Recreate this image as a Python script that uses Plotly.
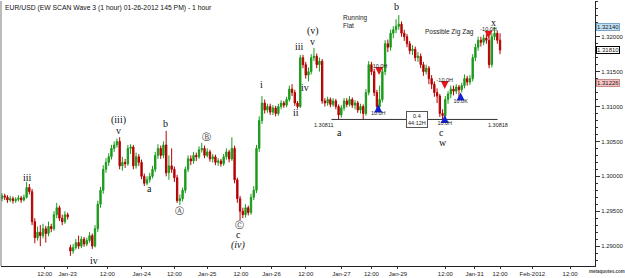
import plotly.graph_objects as go

title_text = "EUR/USD (EW SCAN Wave 3 (1 hour) 01-26-2012 145 PM) - 1 hour"

opens = [1.2968,1.2972,1.2970,1.2966,1.2968,1.2965,1.2967,1.2969,1.2966,1.2970,
         1.2984,1.2978,1.2935,1.2912,1.2920,1.2915,1.2925,1.2918,1.2928,1.2925,
         1.2945,1.2955,1.2940,1.2935,1.2945,1.2898,1.2893,1.2898,1.2905,1.2900,
         1.2910,1.2903,1.2908,1.2915,1.2900,1.2925,1.2960,1.2980,1.3010,1.3020,
         1.3028,1.3040,1.3045,1.3050,1.3015,1.3020,1.3018,1.3040,1.3042,1.3015,
         1.3028,1.3020,1.3000,1.2990,1.2995,1.3000,1.3010,1.3030,1.3040,1.3030,
         1.3045,1.3005,1.3015,1.3010,1.2998,1.2965,1.2968,1.2980,1.3010,1.3025,
         1.3022,1.3030,1.3028,1.3038,1.3040,1.3030,1.3035,1.3025,1.3028,1.3020,
         1.3022,1.3018,1.3028,1.3035,1.3025,1.3040,1.2995,1.2968,1.2950,1.2945,
         1.2955,1.2948,1.2970,1.2980,1.3040,1.3080,1.3105,1.3095,1.3100,1.3092,
         1.3098,1.3090,1.3100,1.3105,1.3102,1.3110,1.3125,1.3120,1.3105,1.3100,
         1.3170,1.3160,1.3145,1.3150,1.3170,1.3172,1.3160,1.3165,1.3108,1.3105,
         1.3110,1.3103,1.3108,1.3100,1.3088,1.3098,1.3108,1.3103,1.3110,1.3102,
         1.3105,1.3095,1.3100,1.3090,1.3120,1.3160,1.3150,1.3120,1.3100,1.3110,
         1.3150,1.3190,1.3185,1.3205,1.3210,1.3215,1.3218,1.3205,1.3200,1.3190,
         1.3180,1.3182,1.3170,1.3172,1.3160,1.3150,1.3155,1.3140,1.3132,1.3120,
         1.3115,1.3090,1.3087,1.3110,1.3118,1.3125,1.3122,1.3128,1.3124,1.3130,
         1.3140,1.3135,1.3140,1.3170,1.3185,1.3195,1.3192,1.3198,1.3195,1.3160,
         1.3200,1.3205,1.3195]
highs = [1.2976,1.2975,1.2973,1.2972,1.2971,1.2970,1.2973,1.2972,1.2974,1.2992,
         1.2989,1.2982,1.2940,1.2928,1.2930,1.2932,1.2929,1.2935,1.2932,1.2950,
         1.2962,1.2958,1.2945,1.2950,1.2948,1.2902,1.2903,1.2910,1.2915,1.2914,
         1.2913,1.2912,1.2920,1.2918,1.2930,1.2965,1.2985,1.3016,1.3026,1.3033,
         1.3045,1.3050,1.3054,1.3056,1.3028,1.3025,1.3045,1.3046,1.3045,1.3034,
         1.3032,1.3024,1.3004,1.3000,1.3005,1.3015,1.3035,1.3046,1.3044,1.3050,
         1.3065,1.3030,1.3040,1.3014,1.3002,1.2974,1.2984,1.3014,1.3030,1.3030,
         1.3035,1.3034,1.3043,1.3048,1.3044,1.3040,1.3038,1.3032,1.3031,1.3026,
         1.3025,1.3032,1.3040,1.3038,1.3056,1.3044,1.2998,1.2972,1.2955,1.2960,
         1.2958,1.2975,1.2986,1.3045,1.3086,1.3115,1.3110,1.3104,1.3104,1.3102,
         1.3101,1.3104,1.3109,1.3108,1.3114,1.3130,1.3132,1.3124,1.3108,1.3174,
         1.3174,1.3164,1.3156,1.3175,1.3184,1.3176,1.3170,1.3168,1.3112,1.3114,
         1.3113,1.3112,1.3111,1.3103,1.3102,1.3112,1.3112,1.3115,1.3113,1.3109,
         1.3108,1.3104,1.3103,1.3125,1.3165,1.3164,1.3154,1.3124,1.3130,1.3155,
         1.3195,1.3196,1.3210,1.3215,1.3225,1.3231,1.3222,1.3210,1.3204,1.3194,
         1.3188,1.3186,1.3178,1.3176,1.3164,1.3160,1.3158,1.3145,1.3136,1.3126,
         1.3118,1.3096,1.3115,1.3122,1.3130,1.3130,1.3132,1.3131,1.3134,1.3146,
         1.3144,1.3145,1.3175,1.3190,1.3200,1.3200,1.3203,1.3204,1.3199,1.3205,
         1.3214,1.3209,1.3205]
lows = [1.2964,1.2966,1.2962,1.2963,1.2961,1.2962,1.2964,1.2962,1.2964,1.2968,
        1.2974,1.2930,1.2904,1.2908,1.2900,1.2911,1.2905,1.2914,1.2920,1.2922,
        1.2940,1.2936,1.2930,1.2932,1.2938,1.2886,1.2889,1.2895,1.2896,1.2897,
        1.2899,1.2900,1.2905,1.2896,1.2898,1.2920,1.2955,1.2975,1.3005,1.3015,
        1.3024,1.3035,1.3041,1.3010,1.3008,1.3012,1.3015,1.3032,1.3010,1.3011,
        1.3015,1.2996,1.2986,1.2987,1.2991,1.2997,1.3006,1.3025,1.3025,1.3026,
        1.3000,1.2995,1.3005,1.2992,1.2962,1.2959,1.2964,1.2976,1.3006,1.3016,
        1.3018,1.3022,1.3025,1.3034,1.3026,1.3027,1.3021,1.3020,1.3016,1.3015,
        1.3014,1.3015,1.3024,1.3020,1.3022,1.2990,1.2962,1.2937,1.2940,1.2941,
        1.2944,1.2945,1.2966,1.2976,1.3035,1.3075,1.3090,1.3091,1.3088,1.3088,
        1.3086,1.3087,1.3096,1.3098,1.3099,1.3107,1.3115,1.3101,1.3097,1.3098,
        1.3155,1.3140,1.3136,1.3146,1.3165,1.3155,1.3150,1.3104,1.3100,1.3101,
        1.3099,1.3100,1.3096,1.3081,1.3084,1.3094,1.3099,1.3100,1.3098,1.3096,
        1.3091,1.3090,1.3082,1.3087,1.3116,1.3145,1.3115,1.3094,1.3096,1.3106,
        1.3145,1.3178,1.3180,1.3198,1.3205,1.3210,1.3200,1.3194,1.3185,1.3175,
        1.3174,1.3165,1.3164,1.3155,1.3144,1.3146,1.3132,1.3125,1.3114,1.3105,
        1.3085,1.3081,1.3083,1.3104,1.3112,1.3116,1.3118,1.3110,1.3120,1.3126,
        1.3130,1.3131,1.3136,1.3165,1.3180,1.3186,1.3188,1.3190,1.3155,1.3156,
        1.3195,1.3190,1.3175]
closes = [1.2972,1.2970,1.2966,1.2968,1.2965,1.2967,1.2969,1.2966,1.2970,1.2984,
          1.2978,1.2935,1.2912,1.2920,1.2915,1.2925,1.2918,1.2928,1.2925,1.2945,
          1.2955,1.2940,1.2935,1.2945,1.2942,1.2893,1.2898,1.2905,1.2900,1.2910,
          1.2903,1.2908,1.2915,1.2900,1.2925,1.2960,1.2980,1.3010,1.3020,1.3028,
          1.3040,1.3045,1.3050,1.3015,1.3020,1.3018,1.3040,1.3042,1.3015,1.3028,
          1.3020,1.3000,1.2990,1.2995,1.3000,1.3010,1.3030,1.3040,1.3030,1.3045,
          1.3005,1.3015,1.3010,1.2998,1.2965,1.2968,1.2980,1.3010,1.3025,1.3022,
          1.3030,1.3028,1.3038,1.3040,1.3030,1.3035,1.3025,1.3028,1.3020,1.3022,
          1.3018,1.3028,1.3035,1.3025,1.3040,1.2995,1.2968,1.2950,1.2945,1.2955,
          1.2948,1.2970,1.2980,1.3040,1.3080,1.3105,1.3095,1.3100,1.3092,1.3098,
          1.3090,1.3100,1.3105,1.3102,1.3110,1.3125,1.3120,1.3105,1.3100,1.3170,
          1.3160,1.3145,1.3150,1.3170,1.3172,1.3160,1.3165,1.3108,1.3105,1.3110,
          1.3103,1.3108,1.3100,1.3088,1.3098,1.3108,1.3103,1.3110,1.3102,1.3105,
          1.3095,1.3100,1.3090,1.3120,1.3160,1.3150,1.3120,1.3100,1.3110,1.3150,
          1.3190,1.3185,1.3205,1.3210,1.3215,1.3218,1.3205,1.3200,1.3190,1.3180,
          1.3182,1.3170,1.3172,1.3160,1.3150,1.3155,1.3140,1.3132,1.3120,1.3115,
          1.3090,1.3087,1.3110,1.3118,1.3125,1.3122,1.3128,1.3124,1.3130,1.3140,
          1.3135,1.3140,1.3170,1.3185,1.3195,1.3192,1.3198,1.3195,1.3160,1.3200,
          1.3205,1.3195,1.3181]
bars = list(range(len(closes)))

x_tick_pos = [15.6, 24, 38.5, 51, 63, 75, 87.3, 98.5, 111, 124, 135, 144.7, 162, 172.7, 182, 193.8, 207.6]
x_tick_text = ["12:00", "Jan-23", "12:00", "Jan-24", "12:00", "Jan-25", "12:00", "Jan-26", "12:00",
               "Jan-27", "12:00", "Jan-29", "12:00", "Jan-31", "12:00", "Feb-2012", "12:00"]
y_tick_vals = [1.29, 1.295, 1.30, 1.305, 1.31, 1.315, 1.32]
y_tick_text = ["%.5f" % v for v in y_tick_vals]

# Elliott wave labels: (bar, price, text)
wave_labels = [
    (9.5, 1.2999, "iii"), (33.8, 1.2880, "iv"), (42.5, 1.3080, "(iii)"), (42.5, 1.3066, "v"),
    (53.8, 1.2982, "a"), (59.6, 1.3075, "b"), (86.5, 1.2916, "c"), (86.5, 1.2901, "<i>(iv)</i>"),
    (94.9, 1.3132, "i"), (107.6, 1.3091, "ii"), (108.7, 1.3186, "iii"), (110.9, 1.3127, "iv"),
    (113.5, 1.3208, "(v)"), (113.5, 1.3193, "v"), (123.3, 1.3063, "a"), (144.0, 1.3243, "b"),
    (160.5, 1.3063, "c"), (161.1, 1.3049, "w"), (179.6, 1.3221, "x"),
]
circled_labels = [(64.7, 1.2951, "\u24b6"), (74.9, 1.3057, "\u24b7"), (86.9, 1.2930, "\u24b8")]
notes = [(124.0, 1.3222, "Running<br>Flat"), (154.0, 1.3207, "Possible Zig Zag")]

sell_x = [137.8, 161.8, 177.8]
sell_y = [1.3145, 1.3125, 1.3197]
sell_text = ["-10.0H", "-10.0H", "-10.0H"]
buy_x = [137.5, 161.8, 167.6]
buy_y = [1.3103, 1.3088, 1.3120]
buy_text = ["10.0H", "10.0H", "10.0K"]

level_x = [120.4, 181.1]
level_y = [1.30815, 1.30815]
level_text = ["1.30811", "1.30818"]
ratio_box = (151.6, 1.30815, "0.4<br>44:12H")

price_tags = [(1.32140, "1.32140", "#bfe0f5", "#7aa7c7"),
              (1.31810, "1.31810", "#ffffff", "#000000"),
              (1.31226, "1.31226", "#f7c3c3", "#c98a8a")]

fig = go.Figure()
fig.add_trace(go.Candlestick(
    x=bars, open=opens, high=highs, low=lows, close=closes,
    increasing=dict(line=dict(color="#1a9a1a", width=1), fillcolor="#1a9a1a"),
    decreasing=dict(line=dict(color="#b40000", width=1), fillcolor="#b40000"),
    whiskerwidth=0, showlegend=False, hoverinfo="skip"))

fig.add_trace(go.Scatter(x=level_x, y=level_y, mode="lines",
                         line=dict(color="#303030", width=1), showlegend=False, hoverinfo="skip"))
fig.add_trace(go.Scatter(x=sell_x, y=sell_y, mode="markers+text", text=sell_text,
                         textposition="top center", textfont=dict(size=5.5, color="#222", family="Liberation Sans"),
                         marker=dict(symbol="arrow-down", size=8, color="#e01818", line=dict(width=0)),
                         showlegend=False, hoverinfo="skip"))
fig.add_trace(go.Scatter(x=buy_x, y=buy_y, mode="markers+text", text=buy_text,
                         textposition="bottom center", textfont=dict(size=5.5, color="#222", family="Liberation Sans"),
                         marker=dict(symbol="arrow-up", size=8, color="#1020e0", line=dict(width=0)),
                         showlegend=False, hoverinfo="skip"))

annotations = []
for bx, py, t in wave_labels:
    annotations.append(dict(x=bx, y=py, xref="x", yref="y", text=t, showarrow=False,
                            font=dict(family="Liberation Serif", size=10, color="#111")))
for bx, py, t in circled_labels:
    annotations.append(dict(x=bx, y=py, xref="x", yref="y", text=t, showarrow=False,
                            font=dict(family="DejaVu Sans", size=9, color="#333")))
for bx, py, t in notes:
    annotations.append(dict(x=bx, y=py, xref="x", yref="y", text=t, showarrow=False, align="left",
                            xanchor="left", font=dict(family="Liberation Sans", size=6.5, color="#222")))
annotations.append(dict(x=level_x[0], y=level_y[0], xref="x", yref="y", text=level_text[0], showarrow=False,
                        xanchor="right", xshift=4, yanchor="top", yshift=-1,
                        font=dict(family="Liberation Sans", size=5.5, color="#222")))
annotations.append(dict(x=level_x[1], y=level_y[1], xref="x", yref="y", text=level_text[1], showarrow=False,
                        yanchor="top", yshift=-1, font=dict(family="Liberation Sans", size=5.5, color="#222")))
annotations.append(dict(x=ratio_box[0], y=ratio_box[1], xref="x", yref="y", text=ratio_box[2], showarrow=False,
                        bgcolor="white", bordercolor="#555", borderwidth=1, borderpad=1,
                        font=dict(family="Liberation Sans", size=5.5, color="#222")))
for py, t, bg, bc in price_tags:
    annotations.append(dict(x=1, y=py, xref="paper", yref="y", text=t, showarrow=False, xanchor="left",
                            xshift=1, yshift=(8 if t == "1.31226" else 0),
                            bgcolor=bg, bordercolor=bc, borderwidth=1, borderpad=0,
                            font=dict(family="Liberation Sans", size=6, color="#222")))
annotations.append(dict(x=0.004, y=0.995, xref="paper", yref="paper", text=title_text, showarrow=False,
                        xanchor="left", yanchor="top",
                        font=dict(family="Liberation Sans", size=6.8, color="#111")))
annotations.append(dict(x=1.0, y=-0.005, xref="paper", yref="paper", text="<b>metaquotes.com</b>",
                        showarrow=False, xanchor="left", yanchor="top", xshift=-8,
                        font=dict(family="Liberation Sans", size=4.5, color="#444")))

fig.update_layout(
    width=625, height=278, margin=dict(l=1, r=27, t=1, b=10),
    paper_bgcolor="white", plot_bgcolor="white", showlegend=False,
    annotations=annotations,
    xaxis=dict(range=[-0.36, 216.7], rangeslider=dict(visible=False), showgrid=False, zeroline=False,
               tickmode="array", tickvals=x_tick_pos, ticktext=x_tick_text,
               ticks="outside", ticklen=2, tickcolor="#333", showline=True, linecolor="#222", linewidth=1,
               tickfont=dict(family="Liberation Sans", size=6, color="#222")),
    yaxis=dict(range=[1.28715, 1.32512], side="right", showgrid=False, zeroline=False,
               tickmode="array", tickvals=y_tick_vals, ticktext=y_tick_text,
               ticks="outside", ticklen=4, tickcolor="#333", showline=True, linecolor="#222", linewidth=1,
               minor=dict(ticks="outside", ticklen=2, dtick=0.001, tickcolor="#333"),
               tickfont=dict(family="Liberation Sans", size=6, color="#222")),
    shapes=[dict(type="line", xref="paper", yref="paper", x0=0, x1=0, y0=0, y1=1,
                 line=dict(color="#777", width=1))],
)

fig.write_html("out.html")
